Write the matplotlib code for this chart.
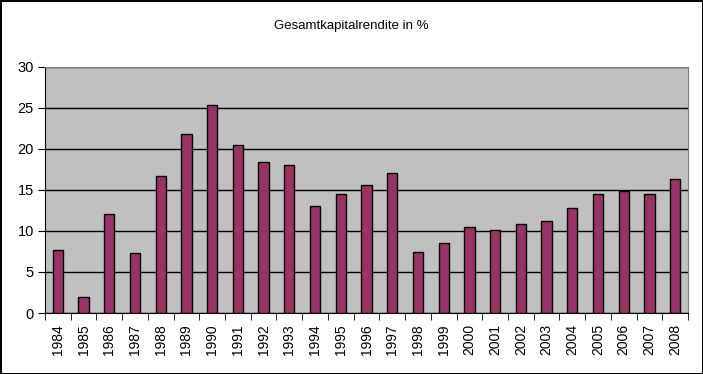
import numpy as np
import matplotlib
matplotlib.use('Agg')
from matplotlib import pyplot as plt

plt.rcParams['font.family'] = ['Liberation Sans', 'DejaVu Sans']

years = [str(y) for y in range(1984, 2009)]
rendite = [7.7, 1.95, 12.1, 7.3, 16.7, 21.8, 25.4, 20.5, 18.4, 18.0,
           13.0, 14.5, 15.6, 17.1, 7.4, 8.5, 10.5, 10.1, 10.85, 11.2,
           12.8, 14.5, 14.9, 14.5, 16.4]

fig = plt.figure(figsize=(7.03, 3.74), dpi=100)
fig.patch.set_facecolor('white')
fig.patch.set_edgecolor('black')
fig.patch.set_linewidth(2)

ax = fig.add_axes([0.064, 0.1631, 0.9147, 0.6578])
ax.set_facecolor('#c0c0c0')
x = np.arange(len(years))
ax.bar(x, rendite, width=0.4, color='#993366', edgecolor='black', linewidth=1, zorder=3)

ax.set_xlim(-0.5, len(years) - 0.5)
ax.set_ylim(0, 30)
ax.set_yticks(range(0, 31, 5))
ax.yaxis.grid(True, color='black', linewidth=1, zorder=1)
ax.set_axisbelow(True)

ax.set_xticks(x)
ax.set_xticklabels(years, rotation=90, fontsize=10)
ax.set_xticks(np.arange(-0.5, len(years)), minor=True)
ax.tick_params(axis='x', which='major', length=0, pad=8)
ax.tick_params(axis='x', which='minor', length=5, direction='out', color='black')
ax.tick_params(axis='y', length=5, direction='out', labelsize=10.5, pad=3)

for s in ['top', 'right']:
    ax.spines[s].set_color('#808080')
for s in ['left', 'bottom']:
    ax.spines[s].set_color('black')

fig.text(0.5, 0.93, 'Gesamtkapitalrendite in %', ha='center', va='center', fontsize=9.5)

fig.savefig('out.png', dpi=100)
